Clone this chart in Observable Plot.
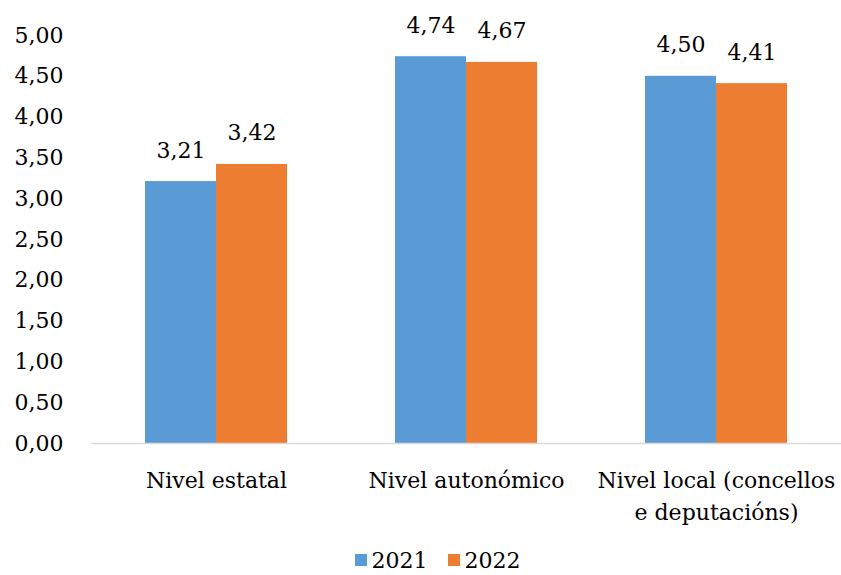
<!DOCTYPE html>
<html>
<head>
<meta charset="utf-8">
<script src="https://cdn.jsdelivr.net/npm/d3@7"></script>
<script src="https://cdn.jsdelivr.net/npm/@observablehq/plot@0.6"></script>
<style>
  body { margin: 0; background: #fff; font-family: "DejaVu Serif", serif; }
  #legend { display: flex; justify-content: center; align-items: center; gap: 20px; padding-left: 34px; height: 30px; font-size: 22px; color: #000; }
  #legend .item { display: flex; align-items: center; gap: 5px; }
  #legend .sw { width: 12px; height: 12px; display: inline-block; }
</style>
</head>
<body>
<div id="chart"></div>
<div id="legend"></div>
<script>
const categories = ["Nivel estatal", "Nivel autonómico", "Nivel local (concellos\ne deputacións)"];
const years = ["2021", "2022"];
const values2021 = [3.21, 4.74, 4.50];
const values2022 = [3.42, 4.67, 4.41];
const yTicks = [0, 0.5, 1, 1.5, 2, 2.5, 3, 3.5, 4, 4.5, 5];
const colors = ["#5B9BD5", "#ED7D31"];

const loc = d3.formatLocale({decimal: ",", thousands: ".", grouping: [3], currency: ["", " €"]});
const fmt = loc.format(".2f");

const data = [];
categories.forEach((c, i) => {
  data.push({cat: c, year: years[0], value: values2021[i]});
  data.push({cat: c, year: years[1], value: values2022[i]});
});

const chart = Plot.plot({
  width: 841,
  height: 545,
  marginLeft: 90,
  marginRight: 0,
  marginTop: 35,
  marginBottom: 102,
  style: {fontFamily: "DejaVu Serif", fontSize: "22px", color: "#000", background: "white"},
  fx: {domain: categories, padding: 0, label: null},
  x: {domain: years, paddingInner: 0, paddingOuter: 0.74, axis: null},
  y: {domain: [0, 5], label: null},
  color: {domain: years, range: colors},
  marks: [
    Plot.axisY({ticks: yTicks, tickFormat: fmt, tickSize: 0, tickPadding: 28, label: null}),
    Plot.axisFx({anchor: "bottom", tickSize: 0, tickPadding: 22, lineHeight: 1.45, label: null}),
    Plot.barY(data, {fx: "cat", x: "year", y: "value", fill: "year"}),
    Plot.ruleY([0], {stroke: "#d9d9d9", strokeWidth: 1.5}),
    Plot.text(data, {fx: "cat", x: "year", y: "value", text: d => fmt(d.value), lineAnchor: "bottom", dy: -24, fill: "#000"})
  ]
});
document.getElementById("chart").appendChild(chart);

const legend = document.getElementById("legend");
years.forEach((y, i) => {
  const it = document.createElement("span");
  it.className = "item";
  const sw = document.createElement("span");
  sw.className = "sw";
  sw.style.background = colors[i];
  it.appendChild(sw);
  it.appendChild(document.createTextNode(y));
  legend.appendChild(it);
});
</script>
</body>
</html>
